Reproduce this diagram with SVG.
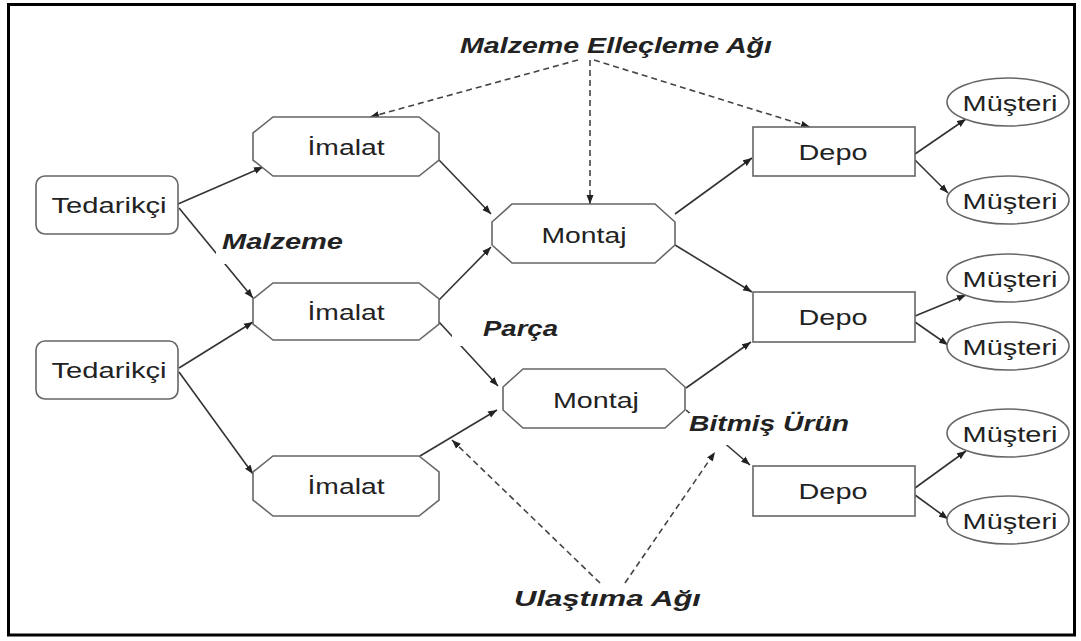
<svg xmlns="http://www.w3.org/2000/svg" width="1081" height="641" viewBox="0 0 1081 641">
<style>
.nd{fill:#fff;stroke:#666;stroke-width:1.6}
.tx{font-family:"Liberation Sans",Arial,sans-serif;font-size:22px;fill:#222;text-anchor:middle}
.lb{font-family:"Liberation Sans",Arial,sans-serif;font-size:22px;font-weight:bold;font-style:italic;fill:#222}
.cn{stroke:#333;stroke-width:1.6;fill:none;marker-end:url(#ah)}
.ds{stroke:#444;stroke-width:1.6;fill:none;stroke-dasharray:6 4;marker-end:url(#ah)}
</style>
<defs>
<marker id="ah" markerUnits="userSpaceOnUse" markerWidth="10" markerHeight="8" refX="9" refY="4" orient="auto">
<path d="M0,0.5 L9,4 L0,7.5 Z" fill="#222"/>
</marker>
</defs>
<rect x="0" y="0" width="1081" height="641" fill="#fff"/>
<rect x="8.5" y="4.5" width="1066" height="630.5" fill="none" stroke="#000" stroke-width="3"/>

<g id="connectors">
<line class="cn" x1="178" y1="204" x2="263" y2="167"/>
<line class="cn" x1="179" y1="208" x2="253" y2="298"/>
<line class="cn" x1="179" y1="368" x2="253" y2="322"/>
<line class="cn" x1="179" y1="372" x2="253" y2="474"/>
<line class="cn" x1="439" y1="160" x2="491" y2="214"/>
<line class="cn" x1="439" y1="300" x2="491" y2="247"/>
<line class="cn" x1="439" y1="322" x2="498" y2="386"/>
<line class="cn" x1="420" y1="456" x2="497" y2="410"/>
<line class="cn" x1="675" y1="214" x2="752" y2="158"/>
<line class="cn" x1="675" y1="245" x2="752" y2="292"/>
<line class="cn" x1="686" y1="388" x2="751" y2="342"/>
<line class="cn" x1="686" y1="410" x2="750" y2="465"/>
<line class="cn" x1="915" y1="154" x2="966" y2="119"/>
<line class="cn" x1="915" y1="160" x2="948" y2="193"/>
<line class="cn" x1="915" y1="316" x2="966" y2="295"/>
<line class="cn" x1="915" y1="322" x2="948" y2="345"/>
<line class="cn" x1="915" y1="488" x2="966" y2="451"/>
<line class="cn" x1="915" y1="495" x2="948" y2="519"/>
<line class="ds" x1="578" y1="60" x2="370" y2="117"/>
<line class="ds" x1="590" y1="60" x2="590" y2="204"/>
<line class="ds" x1="594" y1="60" x2="810" y2="127"/>
<line class="ds" x1="600" y1="583" x2="452" y2="440"/>
<line class="ds" x1="625" y1="583" x2="715" y2="452"/>
</g>

<g id="tedarikci1"><rect class="nd" x="36" y="176" width="142" height="58" rx="9"/><text class="tx" x="109" y="213" textLength="115" lengthAdjust="spacingAndGlyphs">Tedarikçi</text></g>
<g id="tedarikci2"><rect class="nd" x="36" y="341" width="142" height="58" rx="9"/><text class="tx" x="109" y="378" textLength="115" lengthAdjust="spacingAndGlyphs">Tedarikçi</text></g>

<g id="imalat1"><polygon class="nd" points="273,117 419,117 439,133 439,160 419,176 273,176 253,160 253,133"/><text class="tx" x="346" y="155" textLength="77" lengthAdjust="spacingAndGlyphs">İmalat</text></g>
<g id="imalat2"><polygon class="nd" points="273,283 419,283 439,299 439,324 419,340 273,340 253,324 253,299"/><text class="tx" x="346" y="320" textLength="77" lengthAdjust="spacingAndGlyphs">İmalat</text></g>
<g id="imalat3"><polygon class="nd" points="273,456 419,456 439,472 439,500 419,516 273,516 253,500 253,472"/><text class="tx" x="346" y="494" textLength="77" lengthAdjust="spacingAndGlyphs">İmalat</text></g>

<g id="montaj1"><polygon class="nd" points="512,204 655,204 675,222 675,245 655,263 512,263 492,245 492,222"/><text class="tx" x="584" y="243" textLength="85" lengthAdjust="spacingAndGlyphs">Montaj</text></g>
<g id="montaj2"><polygon class="nd" points="523,369 665,369 685,387 685,410 665,428 523,428 503,410 503,387"/><text class="tx" x="596" y="408" textLength="86" lengthAdjust="spacingAndGlyphs">Montaj</text></g>

<g id="depo1"><rect class="nd" x="753" y="127" width="162" height="49"/><text class="tx" x="833" y="160" textLength="69" lengthAdjust="spacingAndGlyphs">Depo</text></g>
<g id="depo2"><rect class="nd" x="753" y="292" width="162" height="50"/><text class="tx" x="833" y="325" textLength="69" lengthAdjust="spacingAndGlyphs">Depo</text></g>
<g id="depo3"><rect class="nd" x="753" y="466" width="162" height="50"/><text class="tx" x="833" y="499" textLength="69" lengthAdjust="spacingAndGlyphs">Depo</text></g>

<g id="musteri1"><ellipse class="nd" cx="1008" cy="102" rx="61" ry="24"/><text class="tx" x="1010" y="111" textLength="95" lengthAdjust="spacingAndGlyphs">Müşteri</text></g>
<g id="musteri2"><ellipse class="nd" cx="1008" cy="200" rx="61" ry="24"/><text class="tx" x="1010" y="209" textLength="95" lengthAdjust="spacingAndGlyphs">Müşteri</text></g>
<g id="musteri3"><ellipse class="nd" cx="1008" cy="278" rx="61" ry="24"/><text class="tx" x="1010" y="287" textLength="95" lengthAdjust="spacingAndGlyphs">Müşteri</text></g>
<g id="musteri4"><ellipse class="nd" cx="1008" cy="346" rx="61" ry="24"/><text class="tx" x="1010" y="355" textLength="95" lengthAdjust="spacingAndGlyphs">Müşteri</text></g>
<g id="musteri5"><ellipse class="nd" cx="1008" cy="433" rx="61" ry="24"/><text class="tx" x="1010" y="442" textLength="95" lengthAdjust="spacingAndGlyphs">Müşteri</text></g>
<g id="musteri6"><ellipse class="nd" cx="1008" cy="520" rx="61" ry="24"/><text class="tx" x="1010" y="529" textLength="95" lengthAdjust="spacingAndGlyphs">Müşteri</text></g>

<g id="labels">
<text class="lb" x="460" y="53" textLength="312" lengthAdjust="spacingAndGlyphs">Malzeme Elleçleme Ağı</text>
<rect x="216" y="230" width="130" height="34" fill="#fff"/>
<text class="lb" x="222" y="249" textLength="121" lengthAdjust="spacingAndGlyphs">Malzeme</text>
<rect x="452" y="318" width="108" height="28" fill="#fff"/>
<text class="lb" x="483" y="336" textLength="75" lengthAdjust="spacingAndGlyphs">Parça</text>
<rect x="689" y="413" width="164" height="32" fill="#fff"/>
<text class="lb" x="689" y="431" textLength="160" lengthAdjust="spacingAndGlyphs">Bitmiş Ürün</text>
<text class="lb" x="514" y="606" textLength="187" lengthAdjust="spacingAndGlyphs">Ulaştıma Ağı</text>
</g>
</svg>
